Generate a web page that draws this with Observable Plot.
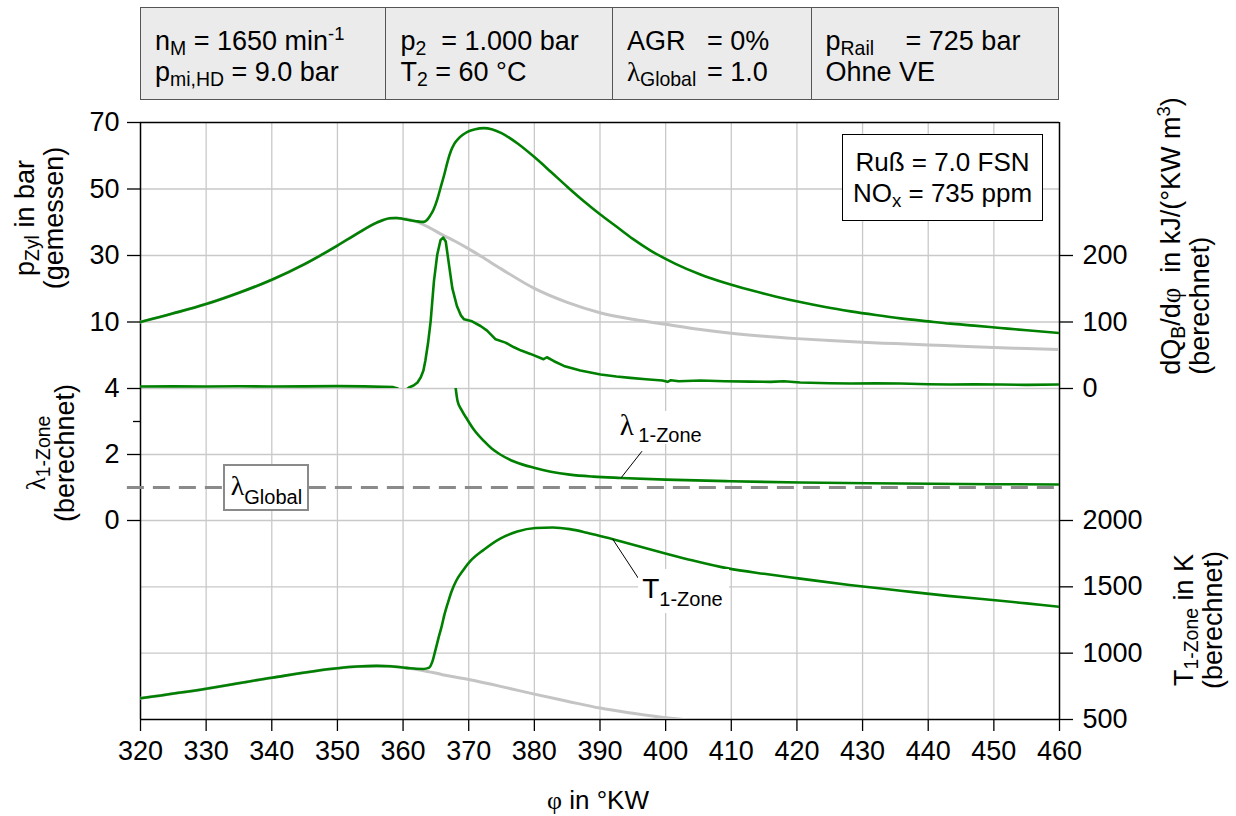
<!DOCTYPE html>
<html><head><meta charset="utf-8">
<script src="https://cdn.jsdelivr.net/npm/d3@7"></script>
<script src="https://cdn.jsdelivr.net/npm/@observablehq/plot@0.6"></script>
<style>
html,body{margin:0;padding:0;background:#fff;}
#wrap{position:relative;width:1236px;height:816px;overflow:hidden;font-family:"Liberation Sans",Arial,Helvetica,sans-serif;color:#000;}
#wrap > svg{position:absolute;left:0;top:0;}
.abs{position:absolute;white-space:nowrap;line-height:1;}
.gk{font-family:"Liberation Serif","DejaVu Serif",serif;}
sub{font-size:0.72em;vertical-align:-0.28em;line-height:0;}
sup{font-size:0.68em;vertical-align:0.55em;line-height:0;}
#info{position:absolute;left:140px;top:7px;width:919px;height:93px;box-sizing:border-box;border:1.5px solid #555;background:#ebebeb;display:flex;}
#info .cell{box-sizing:border-box;height:100%;padding:7px 0 0 14px;display:flex;flex-direction:column;justify-content:center;font-size:27px;line-height:31px;white-space:pre;border-right:1.5px solid #555;}
#info .cell:last-child{border-right:none;}
#info .k{display:inline-block;}
.rot{position:absolute;transform:translate(-50%,-50%) rotate(-90deg);white-space:nowrap;font-size:27px;line-height:29px;}
</style></head>
<body><div id="wrap"></div>
<script>
// ---------------- data ----------------
const phiTicks = [320,330,340,350,360,370,380,390,400,410,420,430,440,450,460];
const pTicks = [10,30,50,70];
const dqTicks = [0,100,200];
const lambdaTicks = [0,2,4];
const lambdaMinorTicks = [3];
const tTicks = [500,1000,1500,2000];
const lambdaGlobal = 1.0;

// cylinder pressure, motored (grey) [bar]
const motoredPhi = [320,325,330,335,340,345,350,353,356,358,359,360,362,364,366,368,370,372,375,380,385,390,395,400,405,410,415,420,425,430,435,440,445,450,455,460];
const motoredP   = [10.0,12.6,15.4,18.8,22.7,27.4,33.0,36.6,39.9,41.2,41.3,41.1,40.2,38.4,36.2,34.2,32.0,29.6,25.9,20.1,15.9,12.8,10.8,9.3,7.8,6.6,5.7,5.0,4.4,3.9,3.5,3.1,2.7,2.3,2.0,1.7];

// cylinder pressure, fired (green) [bar]
const firedPhi = [320,325,330,335,340,345,350,353,356,358,359,360,361,362,363.1,363.6,364.1,364.6,365.2,365.7,366.3,366.8,367.3,367.8,368.4,369.1,369.8,371,372.3,373.5,375,377.5,380,382.5,385,387.5,390,392.5,395,397.7,401.5,405.3,409,412.9,416.7,420.5,424.3,428.2,432,435.8,440,443.4,447,451,455,460];
const firedP   = [10.0,12.6,15.4,18.8,22.7,27.4,33.0,36.6,39.9,41.2,41.3,41.0,40.6,40.3,40.1,40.6,41.9,43.6,46.8,50.3,54.5,58.4,61.5,63.6,65.1,66.3,67.2,68.0,68.3,68.0,66.8,63.6,59.6,55.2,50.7,46.4,42.4,38.7,35.0,31.5,27.5,24.3,21.8,19.6,17.7,16.0,14.5,13.2,12.1,11.1,10.2,9.5,8.9,8.2,7.5,6.7];

// heat release rate dQB/dphi [kJ/(°KW m3)]
const heatPhi = [320,325,330,335,340,345,350,354,357,358.5,359.2,359.6,360.2,360.7,361.0,361.6,362.2,362.7,363.1,363.4,363.8,364.2,364.7,365.2,365.7,366.1,366.5,367.0,367.5,368.2,368.8,369.3,370.5,371.8,372.8,374.1,375.6,376.9,378,379.4,381.4,381.9,383.0,384.5,387.0,390.1,392.5,394.6,397,399.5,400.3,400.8,402,405.3,409,412.9,416,418,420.5,425,428.2,432,435.8,440,443.4,447,451,455,460];
const heatRelease = [3,3.2,3,3.3,3,3.2,3.5,3.2,2.5,2,0,-8,-8,0,2,4.5,9,17,27,42,68,101,161,201,223,227,221,186,151,124,110,104,101,94,87,74,69,62,57,52,44,47,41,34,27,21,18,16,14,12,10,12.5,11,12,11,10.4,10,11,9,8,7.5,8,7.5,6.5,6,6.5,6,5.5,6];

// lambda 1-zone
const lambdaPhi = [367.9,368.3,368.9,369.6,370.8,372.3,373.5,374.8,377,380.1,382.5,385.4,389,393.2,400,409.9,420.5,435.8,450,460];
const lambdaZone = [4.2,3.62,3.35,3.12,2.75,2.41,2.18,2.0,1.78,1.59,1.48,1.39,1.33,1.29,1.24,1.19,1.15,1.12,1.10,1.09];

// T 1-zone [K], motored (grey) and fired (green)
const tMotPhi = [320,330,340,350,353,356,358,360,363,366,370,375,380,385,390,395,400,405,410,415];
const tMot    = [660,732,815,886,899,904,901,892,870,838,801,748,691,638,586,547,513,490,470,455];
const tFiredPhi = [320,330,340,350,353,356,358,360,361,362,363.1,363.9,364.5,364.9,365.4,365.9,366.3,366.8,367.4,368.1,369.1,370.3,372.3,374.8,377.4,380.2,382.8,385.4,388,391.7,395.9,400.1,404.2,409.5,415,420.5,428,435.8,443,451,455,460];
const tFired    = [660,732,815,886,899,904,901,892,886,882,881,889,942,1017,1115,1206,1290,1375,1467,1546,1622,1697,1780,1864,1917,1943,1947,1935,1908,1862,1806,1750,1698,1639,1598,1562,1514,1471,1432,1395,1375,1350];

// annotation anchors (data units)
const lambdaLeader = {x1: 393.2, y1: 1.29, x2: 396.4, y2: 2.1};
const tLeader = {x1: 391.9, y1: 1862, x2: 395.85, y2: 1564};

// info table texts
const infoCells = [
  ['n<sub>M</sub> = 1650 min<sup>-1</sup>', 'p<sub>mi,HD</sub> = 9.0 bar'],
  ['p<sub>2</sub>  = 1.000 bar', 'T<sub>2</sub> = 60 °C'],
  ['<span class="k" style="width:80px">AGR</span>= 0%', '<span class="k" style="width:80px"><span class="gk">λ</span><sub>Global</sub></span>= 1.0'],
  ['<span class="k" style="width:80px">p<sub>Rail</sub></span>= 725 bar', 'Ohne VE']
];
const infoWidths = [246, 227, 199, 247];
const emissionText = ['Ruß = 7.0 FSN', 'NO<sub>x</sub> = 735 ppm'];

// ---------------- layout ----------------
const W = 1236, H = 816, ML = 140, MR = 177;
const yTop = 122, yMid = 388, yLow = 520, yBot = 719;
const FONT = '"Liberation Sans", Arial, Helvetica, sans-serif';
const GRID = "#c9c9c9";
const GREEN = "#008000", GREY = "#c4c4c4";

const rows = (xs, ys) => xs.map((x, i) => ({x, y: ys[i]}));

function panel(top, bottom, yOpts, marks, xAxis) {
  return Plot.plot({
    width: W, height: H, marginLeft: ML, marginRight: MR,
    marginTop: top, marginBottom: H - bottom,
    x: {domain: [320, 460], axis: xAxis ? undefined : null},
    y: yOpts,
    style: {background: "transparent", overflow: "visible", fontFamily: FONT, fontSize: "27px", color: "#000", maxWidth: "none"},
    marks
  });
}
const gridX = () => Plot.gridX({ticks: phiTicks.slice(1, -1), stroke: GRID, strokeOpacity: 1, strokeWidth: 1.3});
const sides = () => Plot.ruleX([320, 460], {stroke: "#000", strokeWidth: 1.5});
const fmt = d => String(d);

// pressure panel
const pPlot = panel(yTop, yMid, {domain: [-10, 70]}, [
  gridX(),
  Plot.gridY({ticks: pTicks.slice(0, 3), stroke: GRID, strokeOpacity: 1, strokeWidth: 1.3}),
  Plot.ruleY([70], {stroke: "#000", strokeWidth: 1.5}),
  sides(),
  Plot.line(rows(motoredPhi, motoredP), {x: "x", y: "y", stroke: GREY, strokeWidth: 3, curve: "monotone-x", clip: true}),
  Plot.line(rows(firedPhi, firedP), {x: "x", y: "y", stroke: GREEN, strokeWidth: 2.6, curve: "monotone-x", clip: true}),
  Plot.axisY({anchor: "left", ticks: pTicks, tickSize: 13, tickPadding: 8, tickFormat: fmt, fontSize: 27, label: null, strokeWidth: 1.3})
]);

// heat release panel (same frame, right axis)
const qPlot = panel(yTop, yMid, {domain: [0, 400]}, [
  Plot.line(rows(heatPhi, heatRelease), {x: "x", y: "y", stroke: GREEN, strokeWidth: 2.6, clip: true}),
  Plot.axisY({anchor: "right", ticks: dqTicks, tickSize: 13, tickPadding: 10, tickFormat: fmt, fontSize: 27, label: null, strokeWidth: 1.3})
]);

// lambda panel
const lPlot = panel(yMid, yLow, {domain: [0, 4]}, [
  gridX(),
  Plot.gridY({ticks: lambdaTicks, stroke: GRID, strokeOpacity: 1, strokeWidth: 1.3}),
  sides(),
  Plot.ruleY([lambdaGlobal], {x1: 318, x2: 460, stroke: "#8a8a8a", strokeWidth: 3, strokeDasharray: "17,9"}),
  Plot.line(rows(lambdaPhi, lambdaZone), {x: "x", y: "y", stroke: GREEN, strokeWidth: 2.6, curve: "monotone-x", clip: true}),
  Plot.link([lambdaLeader], {x1: "x1", y1: "y1", x2: "x2", y2: "y2", stroke: "#000", strokeWidth: 1}),
  Plot.axisY({anchor: "left", ticks: lambdaTicks, tickSize: 13, tickPadding: 8, tickFormat: fmt, fontSize: 27, label: null, strokeWidth: 1.3}),
  Plot.axisY({anchor: "left", ticks: lambdaMinorTicks, tickSize: 7, tickFormat: () => "", label: null, strokeWidth: 1.3})
]);

// temperature panel
const tPlot = panel(yLow, yBot, {domain: [500, 2000]}, [
  gridX(),
  Plot.gridY({ticks: [1000, 1500], stroke: GRID, strokeOpacity: 1, strokeWidth: 1.3}),
  Plot.ruleY([500], {stroke: "#000", strokeWidth: 1.5}),
  sides(),
  Plot.line(rows(tMotPhi, tMot), {x: "x", y: "y", stroke: GREY, strokeWidth: 3, curve: "monotone-x", clip: true}),
  Plot.line(rows(tFiredPhi, tFired), {x: "x", y: "y", stroke: GREEN, strokeWidth: 2.6, curve: "monotone-x", clip: true}),
  Plot.link([tLeader], {x1: "x1", y1: "y1", x2: "x2", y2: "y2", stroke: "#000", strokeWidth: 1}),
  Plot.axisY({anchor: "right", ticks: tTicks, tickSize: 13, tickPadding: 10, tickFormat: fmt, fontSize: 27, label: null, strokeWidth: 1.3}),
  Plot.axisX({anchor: "bottom", ticks: phiTicks, tickSize: 12, tickPadding: 9, tickFormat: fmt, fontSize: 27, label: null, strokeWidth: 1.3})
], true);

const wrap = document.getElementById("wrap");
[pPlot, lPlot, tPlot, qPlot].forEach(s => wrap.appendChild(s));

const xS = pPlot.scale("x"), pS = pPlot.scale("y"), lS = lPlot.scale("y"), tS = tPlot.scale("y");
function add(html, css, cls) {
  const d = document.createElement("div");
  d.className = cls || "abs";
  d.innerHTML = html;
  Object.assign(d.style, css);
  wrap.appendChild(d);
  return d;
}

// info table
const info = add("", {}, "");
info.id = "info";
infoCells.forEach((c, i) => {
  const cell = document.createElement("div");
  cell.className = "cell";
  cell.style.width = infoWidths[i] + "px";
  cell.innerHTML = c.map(l => `<div>${l}</div>`).join("");
  info.appendChild(cell);
});

// emission box
add(emissionText.map(l => `<div>${l}</div>`).join(""), {
  left: xS.apply(426.9) + "px", top: pS.apply(66.3) + "px",
  width: (xS.apply(457.6) - xS.apply(426.9)) + "px", height: (pS.apply(40.3) - pS.apply(66.3)) + "px",
  boxSizing: "border-box", border: "1.3px solid #000", background: "#fff", fontSize: "26px", lineHeight: "31px",
  display: "flex", flexDirection: "column", justifyContent: "center", alignItems: "center"
});

// lambda global box
add('<span class="gk" style="font-size:28px">λ</span><span style="font-size:20px;position:relative;top:9px">Global</span>', {
  left: xS.apply(332.6) + "px", top: lS.apply(1.7) + "px",
  width: (xS.apply(345.7) - xS.apply(332.6)) + "px", height: (lS.apply(0.28) - lS.apply(1.7)) + "px",
  boxSizing: "border-box", border: "2.2px solid #8a8a8a", background: "#fff", padding: "6px 0 0 6px"
});

// lambda 1-zone label
add('<span class="gk" style="font-size:29px">λ</span> <span style="font-size:20px;position:relative;top:7px">1-Zone</span>', {
  left: (xS.apply(393.1) - 3) + "px", top: (lS.apply(3.22) - 3) + "px", background: "#fff", padding: "0 6px 4px 3px"
});

// T 1-zone label
add('<span style="font-size:28px">T</span><span style="font-size:20px;position:relative;top:8px">1-Zone</span>', {
  left: (xS.apply(395.9)) + "px", top: tS.apply(1630) + "px", background: "#fff", padding: "6px 6px 10px 4px"
});

// axis titles
add('p<sub>Zyl</sub> in bar<br>(gemessen)', {left: "40px", top: "218px", textAlign: "center"}, "rot");
add('<span class="gk">λ</span><sub>1-Zone</sub><br>(berechnet)', {left: "51px", top: "453px", textAlign: "center"}, "rot");
add('dQ<sub>B</sub>/d<span class="gk">φ</span>  in kJ/(°KW m<sup>3</sup>)<br>(berechnet)', {left: "1186px", top: "236px", textAlign: "left", whiteSpace: "pre"}, "rot");
add('T<sub>1-Zone</sub> in K<br>(berechnet)', {left: "1199px", top: "620px", textAlign: "center"}, "rot");
add('<span class="gk">φ</span> in °KW', {left: "598px", top: "800px", transform: "translate(-50%,-50%)", fontSize: "26px"});
</script>
</body></html>
